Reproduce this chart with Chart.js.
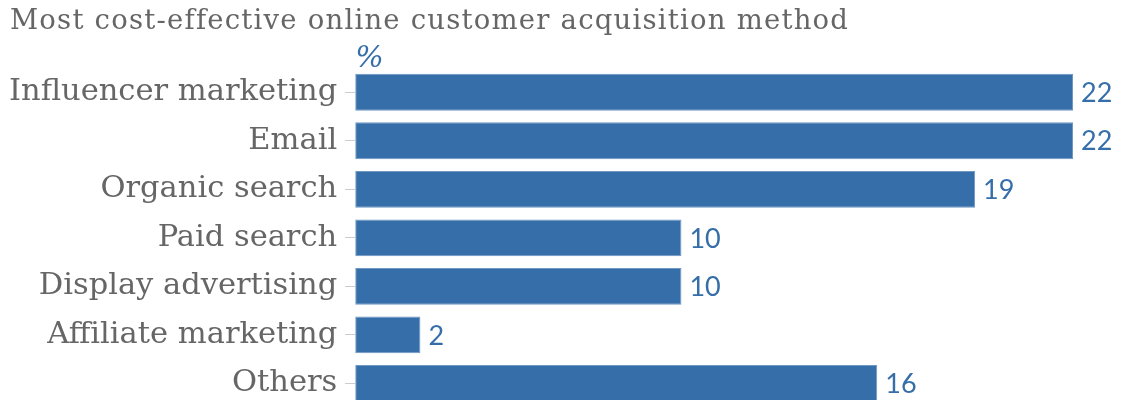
<!DOCTYPE html>
<html>
<head>
<meta charset="utf-8">
<script src="https://cdn.jsdelivr.net/npm/chart.js@4"></script>
<style>
html,body{margin:0;padding:0;background:#fff;overflow:hidden;}
#wrap{width:1122px;height:400px;overflow:hidden;position:relative;}
canvas{position:absolute;top:0;left:0;}
</style>
</head>
<body>
<div id="wrap"><canvas id="c" width="1122" height="434"></canvas></div>
<script>
const titleText = "Most cost-effective online customer acquisition method";
const unitLabel = "%";
const categories = ["Influencer marketing","Email","Organic search","Paid search","Display advertising","Affiliate marketing","Others"];
const values = [22,22,19,10,10,2,16];

const BLUE = "#356ea8";
const GRAY = "#666666";
const SERIF = "'DejaVu Serif',serif";

const titlePlugin = {
  id:'customTitle',
  afterDraw(chart){
    const ctx = chart.ctx;
    ctx.save();
    ctx.letterSpacing = '1.2px';
    ctx.fillStyle = GRAY;
    ctx.font = "27.5px " + SERIF;
    ctx.textAlign = 'left';
    ctx.textBaseline = 'alphabetic';
    ctx.fillText(titleText, 10, 29);
    ctx.restore();
  }
};

const valueLabels = {
  id:'valueLabels',
  afterDatasetsDraw(chart){
    const ctx = chart.ctx;
    const meta = chart.getDatasetMeta(0);
    ctx.save();
    ctx.fillStyle = BLUE;
    ctx.font = "27px Lato, 'Open Sans', sans-serif";
    ctx.textBaseline = 'middle';
    ctx.textAlign = 'left';
    meta.data.forEach((bar,i)=>{
      ctx.fillText(String(chart.data.datasets[0].data[i]), bar.x + 8, bar.y + 1);
    });
    ctx.font = "italic 30px " + SERIF;
    ctx.textBaseline = 'alphabetic';
    ctx.fillText(unitLabel, chart.chartArea.left, chart.chartArea.top - 1);
    ctx.restore();
  }
};

new Chart(document.getElementById('c'), {
  type:'bar',
  data:{
    labels:categories,
    datasets:[{
      data:values,
      backgroundColor:BLUE,
      borderColor:"#6f97c4",
      borderWidth:1,
      borderSkipped:false,
      categoryPercentage:1.0,
      barPercentage:0.76
    }]
  },
  options:{
    indexAxis:'y',
    responsive:false,
    maintainAspectRatio:false,
    animation:false,
    layout:{padding:{left:1,right:49,top:68,bottom:3}},
    plugins:{
      legend:{display:false},
      tooltip:{enabled:false},
      title:{display:false}
    },
    scales:{
      x:{display:false,min:0,max:22},
      y:{
        grid:{display:true,offset:false,drawOnChartArea:false,drawTicks:true,tickLength:10,color:'#cccccc'},
        border:{display:false},
        ticks:{color:GRAY,font:{family:SERIF,size:30.5},padding:8}
      }
    }
  },
  plugins:[titlePlugin, valueLabels]
});
</script>
</body>
</html>
